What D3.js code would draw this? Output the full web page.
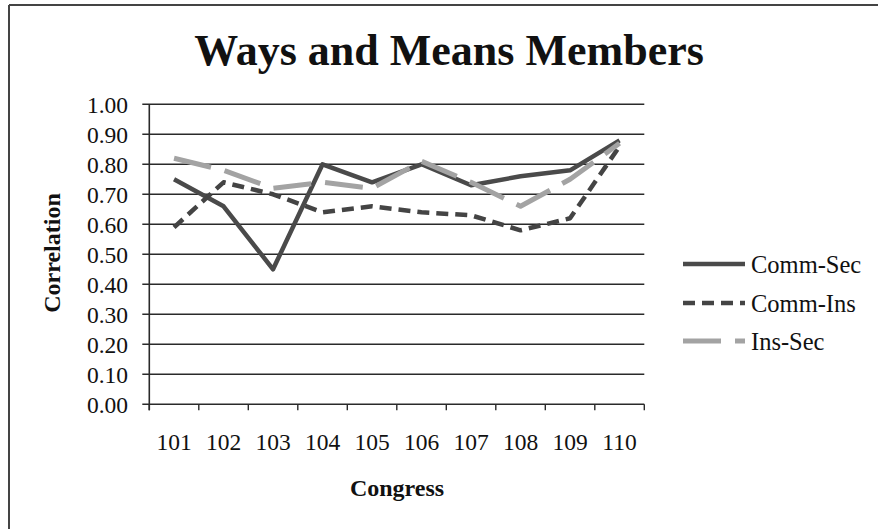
<!DOCTYPE html>
<html>
<head>
<meta charset="utf-8">
<script src="https://cdn.jsdelivr.net/npm/d3@7"></script>
<style>
  html, body { margin: 0; padding: 0; background: #fff; overflow: hidden; }
  svg { display: block; }
  text { font-family: "Liberation Serif", "Times New Roman", serif; fill: #111; }
</style>
</head>
<body>
<svg id="chart" width="878" height="529"></svg>
<script>
const title = "Ways and Means Members";
const xTitle = "Congress";
const yTitle = "Correlation";
const categories = ["101","102","103","104","105","106","107","108","109","110"];
const yTicks = [0,0.1,0.2,0.3,0.4,0.5,0.6,0.7,0.8,0.9,1.0];
const seriesNames = ["Comm-Sec","Comm-Ins","Ins-Sec"];
const commSec = [0.75, 0.66, 0.45, 0.80, 0.74, 0.80, 0.73, 0.76, 0.78, 0.88];
const commIns = [0.59, 0.74, 0.70, 0.64, 0.66, 0.64, 0.63, 0.58, 0.62, 0.86];
const insSec  = [0.82, 0.78, 0.72, 0.74, 0.72, 0.81, 0.74, 0.66, 0.75, 0.87];

const styles = [
  {color: "#4a4a4a", dash: null, width: 4.5},
  {color: "#444444", dash: "12,7", width: 4.5},
  {color: "#a3a3a3", dash: "38,14", width: 5}
];
const seriesData = [commSec, commIns, insSec];

const svg = d3.select("#chart");

// outer frame (top and left edges visible)
svg.append("line").attr("x1", 9).attr("x2", 878).attr("y1", 5).attr("y2", 5)
  .attr("stroke", "#444").attr("stroke-width", 2);
svg.append("line").attr("x1", 9).attr("x2", 9).attr("y1", 5).attr("y2", 529)
  .attr("stroke", "#444").attr("stroke-width", 2);

const pLeft = 149.3, pRight = 644.3, pTop = 104.3, pBottom = 404.3;
const x = d3.scaleBand().domain(categories).range([pLeft, pRight]);
const y = d3.scaleLinear().domain([0, 1]).range([pBottom, pTop]);

// gridlines
svg.append("g").selectAll("line").data(yTicks).join("line")
  .attr("x1", pLeft - 7).attr("x2", pRight)
  .attr("y1", d => y(d)).attr("y2", d => y(d))
  .attr("stroke", "#2a2a2a").attr("stroke-width", 1.5);

// y axis line
svg.append("line").attr("x1", pLeft).attr("x2", pLeft).attr("y1", pTop).attr("y2", pBottom + 6)
  .attr("stroke", "#2a2a2a").attr("stroke-width", 1.6);

// y tick labels
svg.append("g").selectAll("text").data(yTicks).join("text")
  .attr("x", 128).attr("y", d => y(d)).attr("dy", "0.35em")
  .attr("text-anchor", "end").attr("font-size", 23.5)
  .text(d => d.toFixed(2));

// x ticks at band boundaries
const bounds = categories.map(c => x(c)).concat([x(categories[categories.length-1]) + x.bandwidth()]);
svg.append("g").selectAll("line").data(bounds).join("line")
  .attr("x1", d => d).attr("x2", d => d).attr("y1", pBottom).attr("y2", pBottom + 6)
  .attr("stroke", "#2a2a2a").attr("stroke-width", 1.4);

// x tick labels
svg.append("g").selectAll("text").data(categories).join("text")
  .attr("x", d => x(d) + x.bandwidth() / 2).attr("y", 450)
  .attr("text-anchor", "middle").attr("font-size", 23.5)
  .text(d => d);

// titles
svg.append("text").attr("x", 449).attr("y", 65).attr("text-anchor", "middle")
  .attr("font-size", 44).attr("font-weight", "bold").text(title);
svg.append("text").attr("x", 397).attr("y", 496).attr("text-anchor", "middle")
  .attr("font-size", 24).attr("font-weight", "bold").text(xTitle);
svg.append("text").attr("transform", "translate(60,253) rotate(-90)").attr("text-anchor", "middle")
  .attr("font-size", 24).attr("font-weight", "bold").text(yTitle);

// lines
const line = d3.line().x((d, i) => x(categories[i]) + x.bandwidth() / 2).y(d => y(d));
seriesData.forEach((vals, k) => {
  svg.append("path").datum(vals)
    .attr("d", line).attr("fill", "none")
    .attr("stroke", styles[k].color).attr("stroke-width", styles[k].width)
    .attr("stroke-dasharray", styles[k].dash)
    .attr("stroke-linejoin", "round").attr("stroke-linecap", "butt");
});

// legend
const legendY = [264, 303, 341];
seriesNames.forEach((name, k) => {
  svg.append("line").attr("x1", 683).attr("x2", 745)
    .attr("y1", legendY[k]).attr("y2", legendY[k])
    .attr("stroke", styles[k].color).attr("stroke-width", styles[k].width)
    .attr("stroke-dasharray", styles[k].dash);
  svg.append("text").attr("x", 751).attr("y", legendY[k]).attr("dy", "0.35em")
    .attr("font-size", 24.5).text(name);
});
</script>
</body>
</html>
